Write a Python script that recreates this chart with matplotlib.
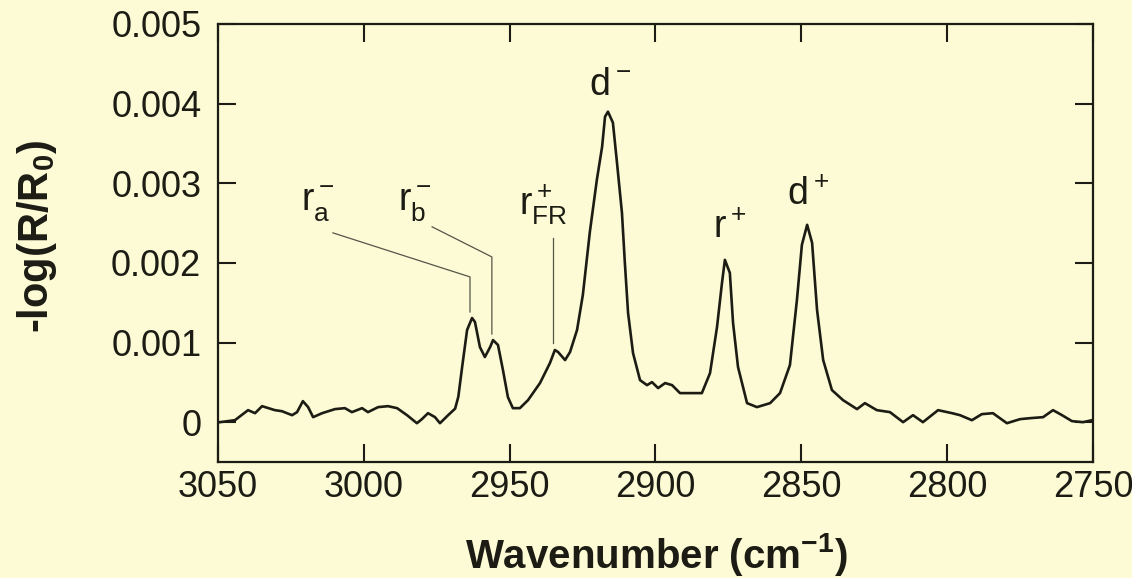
import matplotlib
matplotlib.use("Agg")
import matplotlib.pyplot as plt
from matplotlib.ticker import FixedLocator, FuncFormatter

# --- data ---
wavenumber = [3050.0, 3049.3, 3044.2, 3039.7, 3037.3, 3034.9, 3030.5, 3028.1, 3024.6, 3022.9,
              3020.9, 3019.1, 3017.4, 3014.3, 3009.9, 3006.5, 3004.1, 3000.6, 2998.6, 2995.1,
              2991.7, 2988.6, 2985.2, 2981.8, 2980.1, 2978.0, 2975.6, 2973.9, 2971.1, 2968.7,
              2967.6, 2966.3, 2964.6, 2962.9, 2961.9, 2960.2, 2958.5, 2956.7, 2955.7, 2954.0,
              2952.3, 2950.6, 2948.9, 2946.5, 2943.7, 2939.6, 2936.2, 2934.5, 2933.4, 2931.0,
              2929.3, 2926.9, 2924.9, 2922.5, 2920.1, 2918.3, 2917.3, 2916.3, 2914.6, 2913.2,
              2911.5, 2910.5, 2909.4, 2907.7, 2905.3, 2902.9, 2901.2, 2899.1, 2896.7, 2894.3,
              2891.6, 2884.1, 2881.3, 2878.9, 2877.2, 2876.2, 2874.5, 2873.4, 2871.7, 2868.6,
              2865.2, 2860.7, 2857.3, 2853.9, 2851.5, 2849.8, 2848.0, 2846.3, 2844.6, 2842.5,
              2839.5, 2835.7, 2830.9, 2828.2, 2824.1, 2819.6, 2815.1, 2811.7, 2808.3, 2803.1,
              2798.3, 2795.6, 2791.5, 2788.1, 2784.3, 2779.5, 2775.0, 2771.6, 2767.1, 2763.7,
              2760.6, 2757.2, 2753.4, 2750.3]
absorbance = [0.00000, 0.00000, 0.000025, 0.000151, 0.000113, 0.000201, 0.000151, 0.000138, 0.000088, 0.000126,
              0.000264, 0.000189, 0.000063, 0.000113, 0.000164, 0.000176, 0.000126, 0.000176, 0.000126, 0.000189,
              0.000201, 0.000176, 0.000088, -0.000013, 0.000038, 0.000113, 0.000063, -0.000013, 0.000088, 0.000170,
              0.000320, 0.000692, 0.001157, 0.001308, 0.001258, 0.000943, 0.000818, 0.000943, 0.001031, 0.000969,
              0.000654, 0.000314, 0.000176, 0.000176, 0.000277, 0.000491, 0.000742, 0.000906, 0.000881, 0.000780,
              0.000881, 0.001157, 0.001600, 0.002390, 0.003044, 0.003459, 0.003836, 0.003899, 0.003761, 0.003258,
              0.002629, 0.002000, 0.001371, 0.000868, 0.000528, 0.000465, 0.000503, 0.000428, 0.000491, 0.000465,
              0.000365, 0.000365, 0.000616, 0.001195, 0.001748, 0.002038, 0.001874, 0.001245, 0.000692, 0.000239,
              0.000189, 0.000239, 0.000365, 0.000717, 0.001535, 0.002226, 0.002478, 0.002252, 0.001409, 0.000780,
              0.000403, 0.000277, 0.000164, 0.000239, 0.000151, 0.000126, 0.000000, 0.000088, 0.000000, 0.000151,
              0.000113, 0.000088, 0.000025, 0.000101, 0.000113, -0.000013, 0.000038, 0.000050, 0.000063, 0.000151,
              0.000088, 0.000013, 0.000000, 0.000025]

x_ticks = [3050, 3000, 2950, 2900, 2850, 2800, 2750]
y_ticks = [0, 0.001, 0.002, 0.003, 0.004, 0.005]

peak_labels = [r"$\mathregular{r_a^-}$", r"$\mathregular{r_b^-}$", r"$\mathregular{r_{FR}^+}$",
               r"$\mathregular{d^-}$", r"$\mathregular{r^+}$", r"$\mathregular{d^+}$"]

BG = "#fcfbd5"
INK = "#1c1c14"
FONT = "Liberation Sans"

plt.rcParams["font.family"] = [FONT, "DejaVu Sans"]
plt.rcParams["mathtext.fontset"] = "custom"
plt.rcParams["mathtext.rm"] = FONT

fig = plt.figure(figsize=(11.32, 5.78), dpi=100, facecolor=BG)
ax = fig.add_axes([0.1926, 0.2007, 0.7729, 0.7578], facecolor=BG)

ax.plot(wavenumber, absorbance, color=INK, lw=1.9, solid_joinstyle="round")

ax.set_xlim(3050, 2750)
ax.set_ylim(-0.0005, 0.005)
ax.xaxis.set_major_locator(FixedLocator(x_ticks))
ax.yaxis.set_major_locator(FixedLocator(y_ticks))
ax.yaxis.set_major_formatter(FuncFormatter(lambda v, p: "0" if abs(v) < 1e-9 else f"{v:.3f}"))
ax.xaxis.set_major_formatter(FuncFormatter(lambda v, p: f"{int(round(v))}"))

ax.tick_params(axis="both", which="major", direction="in", length=13, width=1.5,
               top=True, right=True, labelsize=26, colors=INK)
ax.tick_params(axis="y", pad=12)
ax.tick_params(axis="x", pad=6)
for s in ax.spines.values():
    s.set_color(INK)
    s.set_linewidth(1.6)

ax.set_xlabel(r"Wavenumber (cm$\mathregular{^{-1}}$)", fontsize=29, fontweight="bold",
              color=INK, va="center", ha="center")
ax.xaxis.set_label_coords(0.5006, -0.212)
ax.set_ylabel(r"-log(R/R$\mathregular{_0}$)", fontsize=30, fontweight="bold",
              color=INK, va="center", ha="center")
ax.yaxis.set_label_coords(-0.207, 0.516)

# leader lines
lc = dict(color="#555548", lw=0.9)
ax.plot([3010.6, 2963.6, 2963.6], [0.002377, 0.001824, 0.001384], **lc)
ax.plot([2976.6, 2956.1, 2956.1], [0.002453, 0.002075, 0.001107], **lc)
ax.plot([2935.1, 2935.1], [0.002314, 0.000994], **lc)

# peak labels
label_pos = [(3015.7, 0.00273), (2982.5, 0.00273), (2938.6, 0.00273),
             (2915.6, 0.00424), (2874.5, 0.00244), (2847.7, 0.002855)]
for txt, (px, py) in zip(peak_labels, label_pos):
    ax.text(px, py, txt, fontsize=27, color=INK, ha="center", va="center")

fig.savefig("out.png", dpi=100, facecolor=BG)
